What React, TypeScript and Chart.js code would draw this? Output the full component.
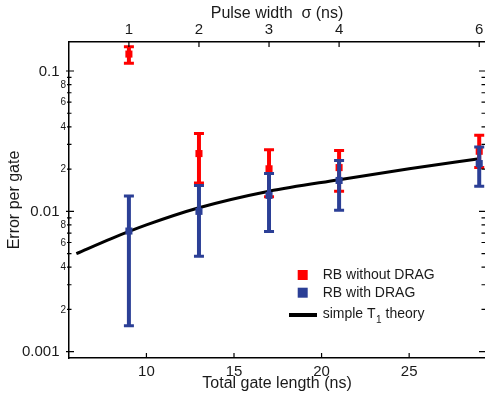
import React, { useEffect, useRef } from 'react';
import { Chart, registerables } from 'chart.js';
Chart.register(...registerables);

// ---- data ----
const gateLength = [9, 13, 17, 21, 29];
const pulseWidth = [1, 2, 3, 4, 6];
const noDragValue = [0.132, 0.0258, 0.0201, 0.0205, 0.0268];
const noDragLow = [0.1135, 0.0159, 0.0127, 0.0139, 0.0205];
const noDragHigh = [0.149, 0.0358, 0.0275, 0.0271, 0.0348];
const dragValue = [0.00724, 0.01, 0.013, 0.0166, 0.0219];
const dragLow = [0.00153, 0.00478, 0.0072, 0.0102, 0.0151];
const dragHigh = [0.01285, 0.0153, 0.0186, 0.023, 0.0287];
const theoryLength = [6, 8, 10, 13, 17, 21, 25, 29];
const theoryError = [0.005, 0.0064, 0.008, 0.0106, 0.0139, 0.0168, 0.0201, 0.0237];
const xTicks = [10, 15, 20, 25];
const yMajorTicks = [0.001, 0.01, 0.1];
const yMajorLabels = ['0.001', '0.01', '0.1'];
const yMinorTicks = [0.002, 0.003, 0.004, 0.005, 0.006, 0.007, 0.008, 0.009, 0.02, 0.03, 0.04, 0.05, 0.06, 0.07, 0.08, 0.09];
const yMinorLabels = ['2', '', '4', '', '6', '', '8', '', '2', '', '4', '', '6', '', '8', ''];
const legendLabels = ['RB without DRAG', 'RB with DRAG'];

const X_MIN = 5.58;
const X_MAX = 29.33;
const Y_MIN = 0.000902;
const Y_MAX = 0.1609;

const RED = '#ff0000';
const BLUE = '#2b3f96';
const TXT = '#1a1a1a';
const FONT = "'Liberation Sans', Arial, sans-serif";

const errorBars: Record<number, { low: number[]; high: number[]; color: string }> = {
  1: { low: noDragLow, high: noDragHigh, color: RED },
  2: { low: dragLow, high: dragHigh, color: BLUE },
};

const decor = {
  id: 'decor',
  beforeDatasetDraw(chart: any, args: any) {
    const eb = errorBars[args.index];
    if (!eb) return;
    const ctx = chart.ctx;
    const xs = chart.scales.x;
    const ys = chart.scales.y;
    ctx.save();
    ctx.strokeStyle = eb.color;
    ctx.lineCap = 'butt';
    for (let i = 0; i < gateLength.length; i++) {
      const x = xs.getPixelForValue(gateLength[i]);
      const yl = ys.getPixelForValue(eb.low[i]);
      const yh = ys.getPixelForValue(eb.high[i]);
      ctx.lineWidth = 4;
      ctx.beginPath();
      ctx.moveTo(x, yl);
      ctx.lineTo(x, yh);
      ctx.stroke();
      ctx.lineWidth = 3;
      ctx.beginPath();
      ctx.moveTo(x - 5, yl);
      ctx.lineTo(x + 5, yl);
      ctx.moveTo(x - 5, yh);
      ctx.lineTo(x + 5, yh);
      ctx.stroke();
    }
    ctx.restore();
  },
  afterDraw(chart: any) {
    const ctx = chart.ctx;
    const xs = chart.scales.x;
    const x2 = chart.scales.x2;
    const ys = chart.scales.y;
    const area = chart.chartArea;
    ctx.save();
    ctx.strokeStyle = '#000';
    ctx.lineWidth = 1.2;
    ctx.beginPath();
    xTicks.forEach((v) => {
      const x = xs.getPixelForValue(v);
      ctx.moveTo(x, area.bottom);
      ctx.lineTo(x, area.bottom - 5);
    });
    gateLength.forEach((v) => {
      const x = x2.getPixelForValue(v);
      ctx.moveTo(x, area.top);
      ctx.lineTo(x, area.top + 5);
    });
    yMajorTicks.forEach((v) => {
      const y = ys.getPixelForValue(v);
      ctx.moveTo(area.left - 3, y);
      ctx.lineTo(area.left + 5, y);
      ctx.moveTo(area.right, y);
      ctx.lineTo(area.right - 6, y);
    });
    yMinorTicks.forEach((v) => {
      const y = ys.getPixelForValue(v);
      ctx.moveTo(area.left - 2, y);
      ctx.lineTo(area.left + 2.5, y);
      ctx.moveTo(area.right, y);
      ctx.lineTo(area.right - 3.5, y);
    });
    ctx.stroke();

    ctx.fillStyle = TXT;
    ctx.textAlign = 'right';
    ctx.textBaseline = 'middle';
    ctx.font = `15px ${FONT}`;
    yMajorTicks.forEach((v, i) => {
      ctx.fillText(yMajorLabels[i], area.left - 9.5, ys.getPixelForValue(v) + 0.5);
    });
    ctx.font = `10px ${FONT}`;
    yMinorTicks.forEach((v, i) => {
      if (yMinorLabels[i]) ctx.fillText(yMinorLabels[i], area.left - 3, ys.getPixelForValue(v) + 0.5);
    });

    const lx = 302.7;
    ctx.fillStyle = RED;
    ctx.fillRect(lx - 5, 270, 10, 10);
    ctx.fillStyle = BLUE;
    ctx.fillRect(lx - 5, 287.7, 10, 10);
    ctx.strokeStyle = '#000';
    ctx.lineWidth = 4;
    ctx.beginPath();
    ctx.moveTo(289, 315);
    ctx.lineTo(317, 315);
    ctx.stroke();
    ctx.fillStyle = TXT;
    ctx.textAlign = 'left';
    ctx.font = `14px ${FONT}`;
    const tx = 322.7;
    ctx.fillText(legendLabels[0], tx, 275.5);
    ctx.fillText(legendLabels[1], tx, 293);
    const part1 = 'simple T';
    ctx.fillText(part1, tx, 314.5);
    const w1 = ctx.measureText(part1).width;
    ctx.font = `10px ${FONT}`;
    ctx.fillText('1', tx + w1 + 0.5, 320.5);
    const w2 = ctx.measureText('1').width;
    ctx.font = `14px ${FONT}`;
    ctx.fillText(' theory', tx + w1 + 0.5 + w2, 314.5);
    ctx.restore();
  },
};

export default function App() {
  const ref = useRef<HTMLCanvasElement | null>(null);
  useEffect(() => {
    if (!ref.current) return;
    const chart = new Chart(ref.current, {
      type: 'scatter',
      data: {
        datasets: [
          {
            label: 'simple T1 theory',
            data: theoryLength.map((x, i) => ({ x, y: theoryError[i] })),
            showLine: true,
            borderColor: '#000',
            borderWidth: 3,
            pointRadius: 0,
            cubicInterpolationMode: 'monotone',
            order: 2,
          },
          {
            label: legendLabels[0],
            data: gateLength.map((x, i) => ({ x, y: noDragValue[i] })),
            pointStyle: 'rect',
            pointRadius: 5,
            backgroundColor: RED,
            borderColor: RED,
            borderWidth: 0,
            order: 1,
          },
          {
            label: legendLabels[1],
            data: gateLength.map((x, i) => ({ x, y: dragValue[i] })),
            pointStyle: 'rect',
            pointRadius: 5,
            backgroundColor: BLUE,
            borderColor: BLUE,
            borderWidth: 0,
            order: 0,
          },
        ],
      } as any,
      options: {
        animation: false,
        responsive: false,
        devicePixelRatio: 1,
        events: [],
        layout: { padding: 0, autoPadding: false },
        plugins: { legend: { display: false }, tooltip: { enabled: false } },
        scales: {
          x: {
            type: 'linear',
            position: 'bottom',
            min: X_MIN,
            max: X_MAX,
            afterBuildTicks: (s: any) => {
              s.ticks = xTicks.map((v) => ({ value: v }));
            },
            grid: { display: false, drawTicks: false },
            border: { display: true, color: '#000', width: 1.5 },
            ticks: { color: TXT, font: { family: FONT, size: 15 }, padding: 5, maxRotation: 0, autoSkip: false },
            title: { display: true, text: 'Total gate length (ns)', color: TXT, font: { family: FONT, size: 16 }, padding: { top: 0, bottom: 0 } },
            afterFit: (s: any) => {
              s.height = 35;
              s.paddingLeft = 0;
              s.paddingRight = 0;
            },
          },
          x2: {
            type: 'linear',
            position: 'top',
            min: X_MIN,
            max: X_MAX,
            afterBuildTicks: (s: any) => {
              s.ticks = gateLength.map((v) => ({ value: v }));
            },
            grid: { display: false, drawTicks: false },
            border: { display: true, color: '#000', width: 1.5 },
            ticks: {
              color: TXT,
              font: { family: FONT, size: 15 },
              padding: 3,
              maxRotation: 0,
              autoSkip: false,
              callback: (v: any) => {
                const i = gateLength.indexOf(Number(v));
                return i >= 0 ? String(pulseWidth[i]) : '';
              },
            },
            title: { display: true, text: 'Pulse width  σ (ns)', color: TXT, font: { family: FONT, size: 16 }, padding: { top: 4, bottom: 0 } },
            afterFit: (s: any) => {
              s.height = 42;
              s.paddingLeft = 0;
              s.paddingRight = 0;
            },
          },
          y: {
            type: 'logarithmic',
            position: 'left',
            min: Y_MIN,
            max: Y_MAX,
            afterBuildTicks: (s: any) => {
              s.ticks = yMajorTicks.map((v) => ({ value: v }));
            },
            grid: { display: false, drawTicks: false },
            border: { display: true, color: '#000', width: 1.5 },
            ticks: { display: false },
            title: { display: true, text: 'Error per gate', color: TXT, font: { family: FONT, size: 16 }, padding: { top: 5, bottom: 0 } },
            afterFit: (s: any) => {
              s.width = 69;
              s.paddingTop = 0;
              s.paddingBottom = 0;
            },
          },
        },
      } as any,
      plugins: [decor],
    });
    return () => chart.destroy();
  }, []);
  return (
    <div style={{ position: 'fixed', left: 0, top: 0, width: 485, height: 393, background: '#fff' }}>
      <canvas ref={ref} width={485} height={393} style={{ display: 'block', width: 485, height: 393 }} />
    </div>
  );
}
